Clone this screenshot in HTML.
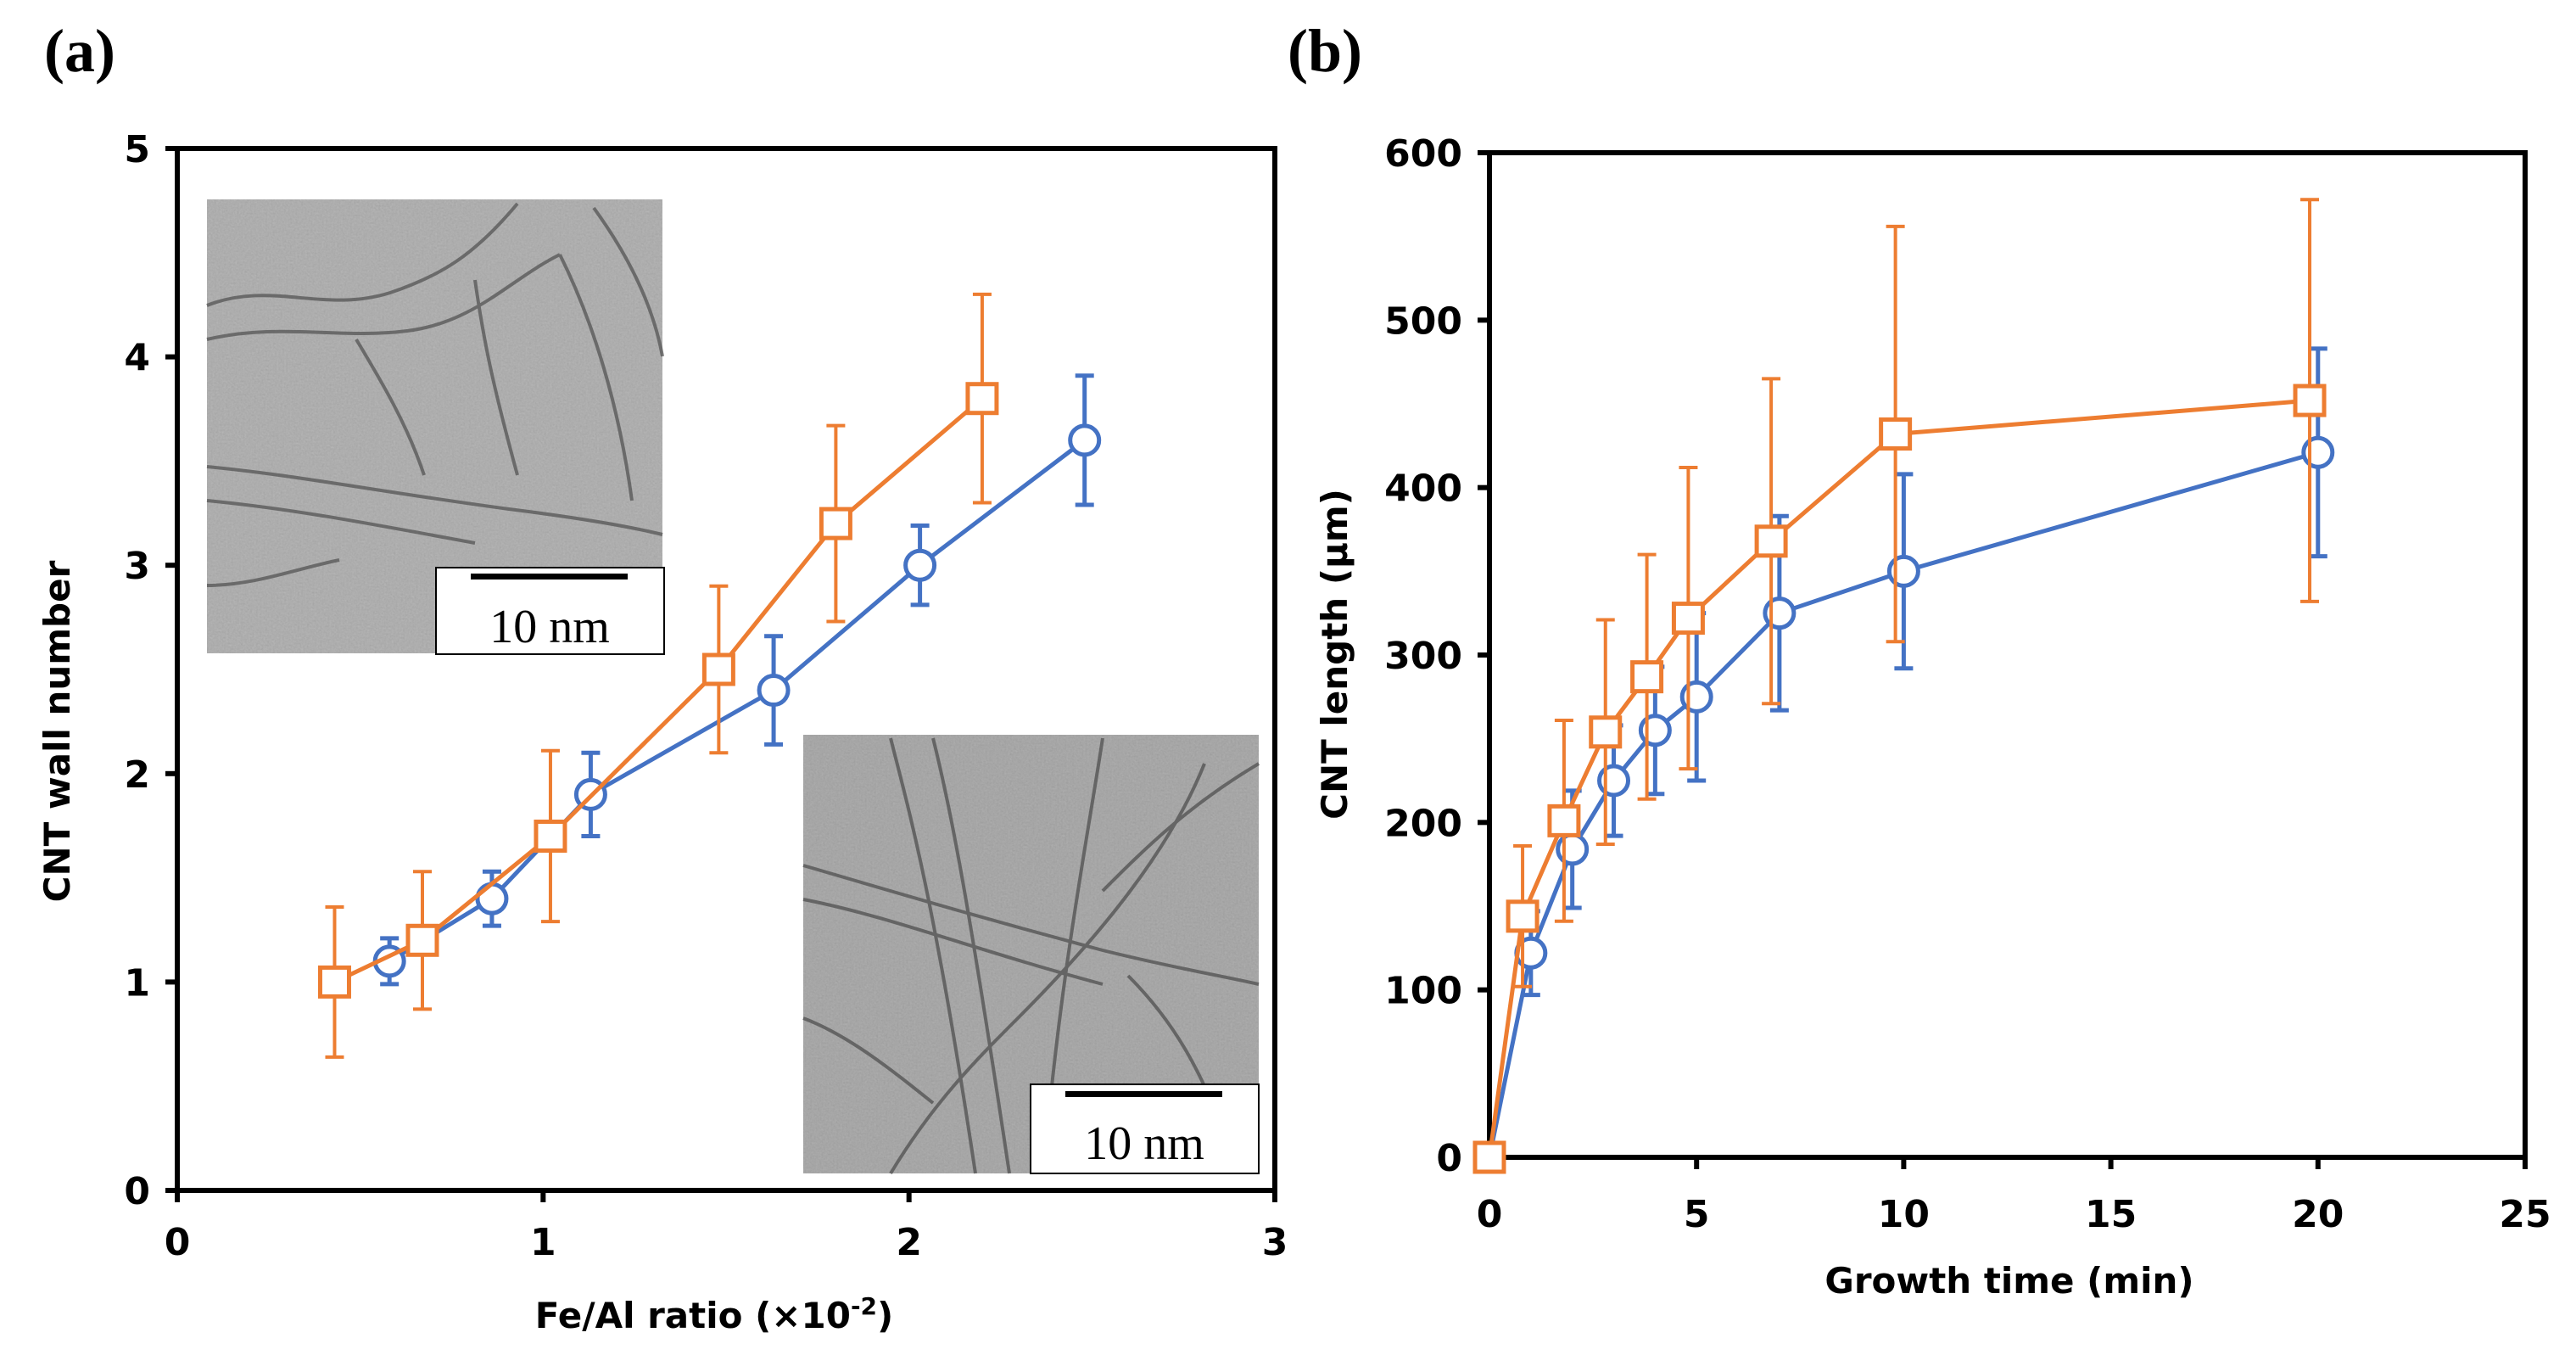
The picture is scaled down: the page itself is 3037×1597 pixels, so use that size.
<!DOCTYPE html>
<html><head><meta charset="utf-8">
<style>
html,body{margin:0;padding:0;background:#fff;}
svg{display:block;}
text{font-family:"DejaVu Sans","Liberation Sans",sans-serif;font-weight:bold;fill:#000;}
.serif{font-family:"Liberation Serif",serif;}
</style></head>
<body>
<svg id="fig" width="3037" height="1597" viewBox="0 0 3037 1597" xmlns="http://www.w3.org/2000/svg">
<defs>
<filter id="noise" x="0" y="0" width="100%" height="100%">
<feTurbulence type="fractalNoise" baseFrequency="0.45" numOctaves="2" seed="3" result="n"/>
<feColorMatrix in="n" type="matrix" values="0.33 0.33 0.33 0 0  0.33 0.33 0.33 0 0  0.33 0.33 0.33 0 0  0 0 0 0 0.35"/>
<feComposite in2="SourceGraphic" operator="in"/>
<feBlend in2="SourceGraphic" mode="multiply"/>
</filter>
</defs>
<text class="serif" x="52" y="84" font-size="72">(a)</text>
<text class="serif" x="1518" y="84" font-size="72">(b)</text>

<g>
<rect x="244" y="235" width="537" height="535" fill="#bdbdbd" filter="url(#noise)"/>
<g fill="none" stroke="#5a5a5a" stroke-width="4" opacity="0.8">
<path d="M244 360 C320 330 380 370 460 345 C520 325 560 300 610 240"/>
<path d="M244 400 C330 380 400 400 480 390 C560 380 600 330 660 300"/>
<path d="M420 400 C450 450 480 500 500 560"/>
<path d="M560 330 C570 400 580 450 610 560"/>
<path d="M660 300 C700 380 730 480 745 590"/>
<path d="M244 550 C350 560 450 580 600 600 C680 610 740 620 781 630"/>
<path d="M244 590 C350 600 450 620 560 640"/>
<path d="M700 245 C740 300 770 360 781 420"/>
<path d="M244 690 C300 690 350 670 400 660"/>
</g>
<rect x="514" y="669" width="269" height="102" fill="#fff" stroke="#000" stroke-width="2"/>
<rect x="555" y="676" width="185" height="7" fill="#000"/>
<text class="serif" x="648" y="757" font-size="56" text-anchor="middle" style="font-weight:normal">10 nm</text>
</g>
<g>
<rect x="947" y="866" width="537" height="517" fill="#b5b5b5" filter="url(#noise)"/>
<g fill="none" stroke="#555" stroke-width="4" opacity="0.8">
<path d="M947 1020 C1050 1050 1150 1080 1300 1120 C1380 1140 1440 1150 1484 1160"/>
<path d="M947 1060 C1050 1080 1150 1120 1300 1160"/>
<path d="M1050 870 C1070 950 1100 1050 1150 1383"/>
<path d="M1100 870 C1120 950 1140 1050 1190 1383"/>
<path d="M1300 870 C1280 1000 1250 1150 1230 1383"/>
<path d="M1420 900 C1380 1000 1300 1100 1200 1200 C1150 1250 1100 1300 1050 1383"/>
<path d="M1484 900 C1400 950 1350 1000 1300 1050"/>
<path d="M1330 1150 C1380 1200 1420 1260 1460 1383"/>
<path d="M947 1200 C1000 1220 1050 1260 1100 1300"/>
</g>
<rect x="1215" y="1278" width="269" height="105" fill="#fff" stroke="#000" stroke-width="2"/>
<rect x="1256" y="1286" width="185" height="7" fill="#000"/>
<text class="serif" x="1349" y="1366" font-size="56" text-anchor="middle" style="font-weight:normal">10 nm</text>
</g>

<g id="chartA"></g>
<g id="chartB"></g>
</svg>
<script>
// Panel (a)
const aBlueX = [0.58, 0.86, 1.13, 1.63, 2.03, 2.48];
const aBlueY = [1.1, 1.4, 1.9, 2.4, 3.0, 3.6];
const aBlueErr = [0.11, 0.13, 0.2, 0.26, 0.19, 0.31];
const aOrangeX = [0.43, 0.67, 1.02, 1.48, 1.8, 2.2];
const aOrangeY = [1.0, 1.2, 1.7, 2.5, 3.2, 3.8];
const aOrangeErr = [0.36, 0.33, 0.41, 0.4, 0.47, 0.5];
const aXTicks = [0, 1, 2, 3];
const aYTicks = [0, 1, 2, 3, 4, 5];
// Panel (b)
const bBlueX = [0, 1, 2, 3, 4, 5, 7, 10, 20];
const bBlueY = [0, 122, 184, 225, 255, 275, 325, 350, 421];
const bBlueErr = [0, 25, 35, 33, 38, 50, 58, 58, 62];
const bOrangeX = [0, 0.8, 1.8, 2.8, 3.8, 4.8, 6.8, 9.8, 19.8];
const bOrangeY = [0, 144, 201, 254, 287, 322, 368, 432, 452];
const bOrangeErr = [0, 42, 60, 67, 73, 90, 97, 124, 120];
const bXTicks = [0, 5, 10, 15, 20, 25];
const bYTicks = [0, 100, 200, 300, 400, 500, 600];

const NS = "http://www.w3.org/2000/svg";
function mk(parent, tag, attrs, txt) {
  const e = document.createElementNS(NS, tag);
  for (const k in attrs) e.setAttribute(k, attrs[k]);
  if (txt !== undefined) e.textContent = txt;
  parent.appendChild(e);
  return e;
}
const BLUE = "#4472C4", ORANGE = "#ED7D31";

function drawChart(g, cfg) {
  const sx = v => cfg.x0 + (v - cfg.xmin) / (cfg.xmax - cfg.xmin) * (cfg.x1 - cfg.x0);
  const sy = v => cfg.y0 - (v - cfg.ymin) / (cfg.ymax - cfg.ymin) * (cfg.y0 - cfg.y1);
  const frame = mk(g, "rect", {x: cfg.x0, y: cfg.y1, width: cfg.x1 - cfg.x0, height: cfg.y0 - cfg.y1, fill: "none", stroke: "#000", "stroke-width": 6});
  
  
  cfg.xTicks.forEach(t => {
    const tk = mk(g, "line", {x1: sx(t), x2: sx(t), y1: cfg.y0, y2: cfg.y0 + 14, stroke: "#000", "stroke-width": 6});
    
    
    const lb = mk(g, "text", {x: sx(t), y: cfg.y0 + cfg.xLabelDy, "font-size": 44, "text-anchor": "middle"}, String(t));
    
    
  });
  cfg.yTicks.forEach(t => {
    const tk = mk(g, "line", {x1: cfg.x0 - 14, x2: cfg.x0, y1: sy(t), y2: sy(t), stroke: "#000", "stroke-width": 6});
    
    
    const lb = mk(g, "text", {x: cfg.x0 - 32, y: sy(t) + 16, "font-size": 44, "text-anchor": "end"}, String(t));
    
    
  });
  const xt = mk(g, "text", {x: cfg.xTitleX, y: cfg.xTitleY, "font-size": 42, "text-anchor": "middle"});
  xt.innerHTML = cfg.xTitle;
  
  
  const yt = mk(g, "text", {x: 0, y: 0, "font-size": 42, "text-anchor": "middle", transform: `translate(${cfg.yTitleX},${cfg.yTitleY}) rotate(-90)`}, cfg.yTitle);
  
  

  cfg.series.forEach(s => {
    const sg = mk(g, "g", {});
    
    
    s.xs.forEach((x, i) => {
      if (!s.err[i]) return;
      const cx = sx(x), top = sy(s.ys[i] + s.err[i]), bot = sy(s.ys[i] - s.err[i]);
      const eb = mk(sg, "path", {d: `M${cx} ${top}V${bot}M${cx - 11} ${top}H${cx + 11}M${cx - 11} ${bot}H${cx + 11}`, stroke: s.color, "stroke-width": s.ew, fill: "none"});
      
      
    });
    const pts = s.xs.map((x, i) => sx(x) + "," + sy(s.ys[i])).join(" ");
    const ln = mk(sg, "polyline", {points: pts, fill: "none", stroke: s.color, "stroke-width": 5});
    
    
    s.xs.forEach((x, i) => {
      let m;
      if (s.shape === "circle") m = mk(sg, "circle", {cx: sx(x), cy: sy(s.ys[i]), r: 17, fill: "#fff", stroke: s.color, "stroke-width": 5});
      else m = mk(sg, "rect", {x: sx(x) - 17, y: sy(s.ys[i]) - 17, width: 34, height: 34, fill: "#fff", stroke: s.color, "stroke-width": 5});
      
      
    });
  });
}

drawChart(document.getElementById("chartA"), {
  x0: 209, x1: 1503, y0: 1403, y1: 175, xmin: 0, xmax: 3, ymin: 0, ymax: 5,
  xTicks: aXTicks, yTicks: aYTicks, xLabelDy: 76,
  xTitle: 'Fe/Al ratio (×10<tspan dy="-16" font-size="28">-2</tspan><tspan dy="16">)</tspan>', xTitleX: 842, xTitleY: 1565,
  yTitle: "CNT wall number", yTitleX: 82, yTitleY: 862,
  series: [
    {name: "series-blue-circles", xs: aBlueX, ys: aBlueY, err: aBlueErr, color: BLUE, shape: "circle", ew: 5},
    {name: "series-orange-squares", xs: aOrangeX, ys: aOrangeY, err: aOrangeErr, color: ORANGE, shape: "square", ew: 4}
  ]
});
drawChart(document.getElementById("chartB"), {
  x0: 1756, x1: 2977, y0: 1364, y1: 180, xmin: 0, xmax: 25, ymin: 0, ymax: 600,
  xTicks: bXTicks, yTicks: bYTicks, xLabelDy: 82,
  xTitle: "Growth time (min)", xTitleX: 2369, xTitleY: 1524,
  yTitle: "CNT length (μm)", yTitleX: 1588, yTitleY: 771,
  series: [
    {name: "series-blue-circles", xs: bBlueX, ys: bBlueY, err: bBlueErr, color: BLUE, shape: "circle", ew: 5},
    {name: "series-orange-squares", xs: bOrangeX, ys: bOrangeY, err: bOrangeErr, color: ORANGE, shape: "square", ew: 4}
  ]
});
</script>
</body></html>
